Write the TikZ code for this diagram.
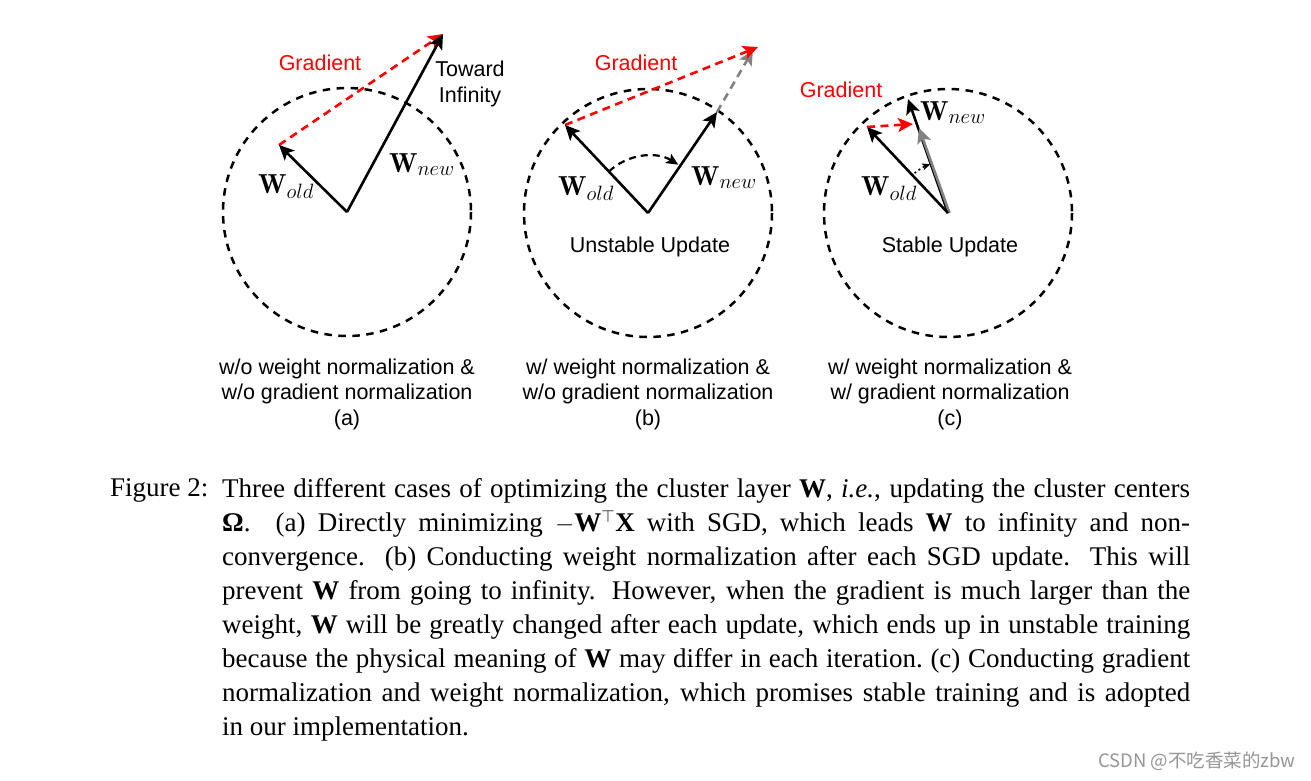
\documentclass[tikz,border=0pt]{standalone}
\usepackage{fontspec}
\usetikzlibrary{arrows.meta,calc}
\newfontfamily\lsans{Liberation Sans}
\newfontfamily\lserif{Liberation Serif}
\newfontfamily\cjk{Noto Sans CJK SC}
\definecolor{gradred}{RGB}{255,0,0}
\definecolor{midgray}{RGB}{130,130,130}
\definecolor{wmgray}{RGB}{150,150,150}
\begin{document}
\begin{tikzpicture}[x=1pt,y=-1pt,
  tipp/.style={-{Stealth[length=15pt,width=14pt,inset=3.5pt]}},
  vec/.style={tipp,line width=2.6pt,black},
  redvec/.style={tipp,line width=2.6pt,gradred,dash pattern=on 8pt off 5.5pt},
  grayvec/.style={tipp,line width=2.6pt,midgray,dash pattern=on 8pt off 5.5pt},
  grayfull/.style={tipp,line width=2.6pt,midgray},
  dashcirc/.style={line width=2.5pt,dash pattern=on 7.5pt off 6.5pt},
  rotarc/.style={line width=2.2pt,dash pattern=on 7pt off 5pt,-{Stealth[length=12pt,width=11pt,inset=3pt]}},
  rotsmall/.style={line width=1.6pt,dash pattern=on 2pt off 3pt,-{Stealth[length=8pt,width=7pt,inset=2pt]}},
  lab/.style={font=\lsans\fontsize{21.5}{25.5}\selectfont,inner sep=0pt,align=center},
  wlab/.style={font=\fontsize{27.5}{32}\selectfont,inner sep=0pt,anchor=base west},
  captxt/.style={font=\lserif\fontsize{27}{34}\selectfont,inner sep=0pt}
]
\fill[white] (0,0) rectangle (1311,780);
\useasboundingbox (0,0) rectangle (1311,780);

% ---------- (a) ----------
\coordinate (Oa) at (347,212);
\coordinate (oldA) at (279,145);
\coordinate (newA) at (443,34);
\draw[dashcirc] (Oa) circle[radius=124];
\draw[redvec] (oldA) -- (newA);
\draw[vec] (Oa) -- (oldA);
\draw[vec] (Oa) -- (newA);
\node[lab,text=gradred] (gA) at (320,63) {Gradient};
\node[lab] (infA) at (470,84) {Toward\\Infinity};
\node[wlab] (woA) at (258,193) {$\mathbf{W}_{old}$};
\node[wlab] (wnA) at (389,172) {$\mathbf{W}_{new}$};
\node[lab] (capA) at (347,394) {w/o weight normalization \&\\w/o gradient normalization\\(a)};

% ---------- (b) ----------
\coordinate (Ob) at (648,213);
\coordinate (oldB) at (565,125);
\coordinate (newB) at (717,112);
\coordinate (redB) at (758,47);
\coordinate (grayB) at (753,50);
\draw[dashcirc] (Ob) circle[radius=124];
\draw[grayvec] (newB) -- (grayB);
\draw[redvec] (oldB) -- (redB);
\draw[vec] (Ob) -- (oldB);
\draw[vec] (Ob) -- (newB);
\draw[rotarc] ($(Ob)+(-133.3:57)$) arc[start angle=-133.3,end angle=-58,radius=57];
\node[lab,text=gradred] (gB) at (636,63) {Gradient};
\node[wlab] (woB) at (558,195) {$\mathbf{W}_{old}$};
\node[wlab] (wnB) at (691,185) {$\mathbf{W}_{new}$};
\node[lab] (uB) at (650,247) {Unstable Update};
\node[lab] (capB) at (648,394) {w/ weight normalization \&\\w/o gradient normalization\\(b)};

% ---------- (c) ----------
\coordinate (Oc) at (948,213);
\coordinate (Oc2) at (949.5,213);
\coordinate (oldC) at (867,127);
\coordinate (newC) at (908,99);
\coordinate (grayC) at (919,128);
\coordinate (redC) at (913,124);
\draw[dashcirc] (Oc) circle[radius=124];
\draw[vec] (Oc) -- (newC);
\draw[grayfull] (Oc2) -- (grayC);
\draw[vec] (Oc) -- (oldC);
\draw[redvec] (oldC) -- (redC);
\draw[rotsmall] ($(Oc)+(-130:52)$) arc[start angle=-130,end angle=-110,radius=52];
\node[lab,text=gradred] (gC) at (841,90) {Gradient};
\node[wlab] (woC) at (861,195) {$\mathbf{W}_{old}$};
\node[wlab] (wnC) at (920,120) {$\mathbf{W}_{new}$};
\node[lab] (sC) at (950,247) {Stable Update};
\node[lab] (capC) at (950,394) {w/ weight normalization \&\\w/ gradient normalization\\(c)};

% ---------- caption ----------
\node[captxt,anchor=north west] (fig) at (110,478) {Figure 2:};
\node[captxt,anchor=north west,text width=968pt,align=justify] (captext) at (222,478) {%
Three different cases of optimizing the cluster layer \textbf{W}, \textit{i.e.}, updating the cluster centers\linebreak
\textbf{Ω}\@.  (a) Directly minimizing $-$\textbf{W}$^{\top}$\textbf{X} with SGD, which leads \textbf{W} to infinity and non-\linebreak
convergence.  (b) Conducting weight normalization after each SGD update.  This will\linebreak
prevent \textbf{W} from going to infinity.  However, when the gradient is much larger than the\linebreak
weight, \textbf{W} will be greatly changed after each update, which ends up in unstable training\linebreak
because the physical meaning of \textbf{W} may differ in each iteration.\ (c) Conducting gradient\linebreak
normalization and weight normalization, which promises stable training and is adopted\linebreak
in our implementation.\par};

\node[font=\cjk\fontsize{18.5}{20}\selectfont,text=wmgray,inner sep=0pt,anchor=east] (wm) at (1296,761) {CSDN @不吃香菜的zbw};
\end{tikzpicture}
\end{document}
